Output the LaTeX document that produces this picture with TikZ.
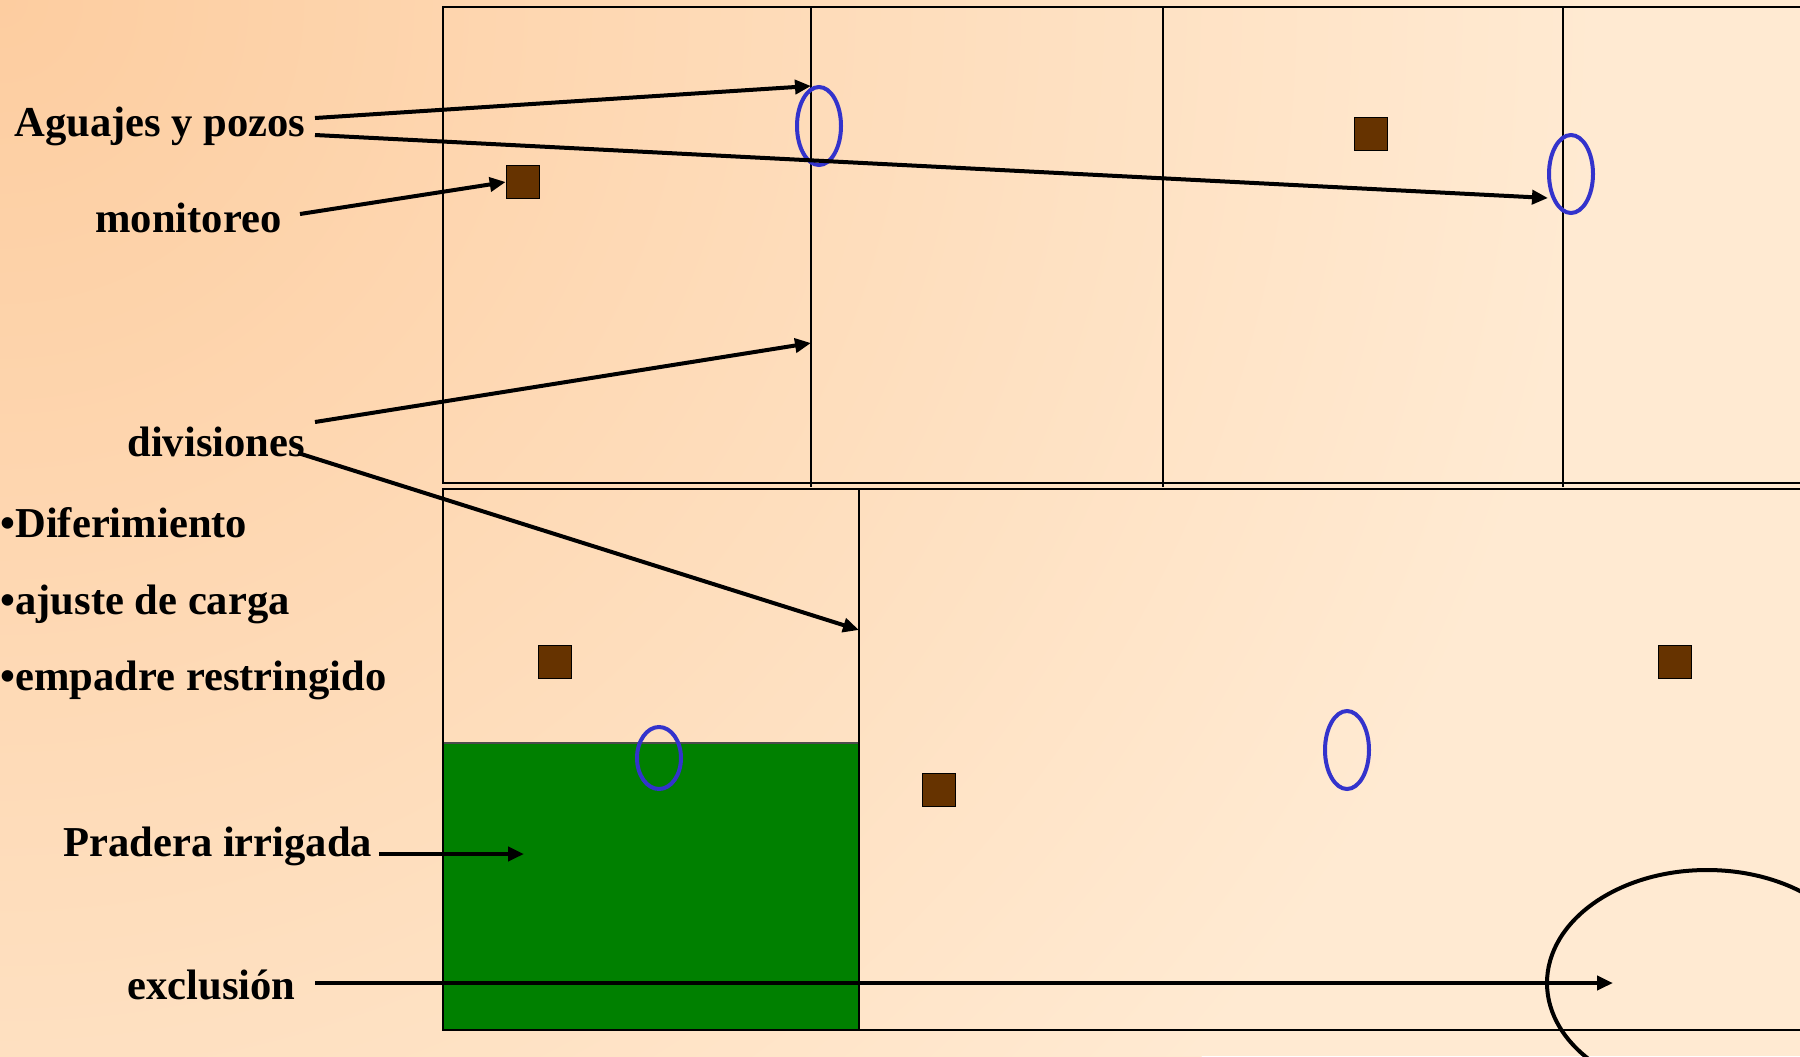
\documentclass[tikz,border=0pt]{standalone}
\usepackage{fontspec}
\setmainfont{Liberation Serif}
\usetikzlibrary{arrows.meta,shapes.geometric}
\definecolor{peachA}{RGB}{253,205,160}
\definecolor{peachB}{RGB}{255,234,210}
\definecolor{brownsq}{RGB}{102,51,0}
\definecolor{bluering}{RGB}{51,51,204}
\definecolor{pgreen}{RGB}{0,128,0}
\begin{document}
\begin{tikzpicture}[x=0.5pt,y=-0.5pt,
 lbl/.style={anchor=base west, inner sep=0pt, font=\fontsize{21.3pt}{25pt}\selectfont\bfseries},
 sq/.style={draw=black, line width=0.8pt, fill=brownsq, minimum width=16.5pt, minimum height=16.5pt, inner sep=0pt},
 ring/.style={ellipse, draw=bluering, line width=2pt, minimum width=22pt, minimum height=39pt, inner sep=0pt},
 arr/.style={line width=2pt, -{Triangle[length=8pt,width=7pt]}},
 frame/.style={line width=1.3pt},
 divline/.style={line width=1pt},
]
\useasboundingbox (0,0) rectangle (1800,1056);
\clip (0,0) rectangle (1800,1056);
% background
\fill[peachB] (0,0) rectangle (1800,1056);
\shade[inner color=peachA, outer color=peachB] (0,0) circle [radius=800pt];
% green meadow
\fill[pgreen] (443,743) rectangle (859,1030);
\draw[line width=0.8pt, black!70] (443,743) -- (859,743);
% frames
\draw[frame] (443,7) rectangle (1830,483);
\draw[frame] (443,489) rectangle (1830,1030);
\draw[divline] (811,7) -- (811,487);
\draw[divline] (1163,7) -- (1163,487);
\draw[divline] (1563,7) -- (1563,487);
\draw[divline] (859,489) -- (859,1030);
% squares
\node[sq] (s1) at (523,182) {};
\node[sq] (s2) at (1371,134) {};
\node[sq] (s3) at (555,662) {};
\node[sq] (s4) at (939,790) {};
\node[sq] (s5) at (1675,662) {};
% rings
\node[ring] (e1) at (819,126) {};
\node[ring] (e2) at (1571,174) {};
\node[ring, minimum height=31pt] (e3) at (659,758) {};
\node[ring] (e4) at (1347,750) {};
% exclusion zone
\node[ellipse, draw, line width=2pt, minimum width=160pt, minimum height=113pt, inner sep=0pt] (excl) at (1707,983) {};
% labels
\node[lbl] (agua) at (14,136) {Aguajes y pozos};
\node[lbl] (moni) at (95,232) {monitoreo};
\node[lbl] (divi) at (127,456) {divisiones};
\node[lbl] (dife) at (0,537) {•Diferimiento};
\node[lbl] (ajus) at (0,614) {•ajuste de carga};
\node[lbl] (empa) at (0,690) {•empadre restringido};
\node[lbl] (prad) at (63,856) {Pradera irrigada};
\node[lbl] (excll) at (127,999) {exclusión};
% arrow endpoints
\coordinate (a1s) at (315,118);
\coordinate (a1e) at (811,86);
\coordinate (a2s) at (315,135);
\coordinate (a2e) at (1548,198);
\coordinate (a3s) at (300,214);
\coordinate (a4s) at (315,422);
\coordinate (a4e) at (811,343);
\coordinate (a5s) at (298,453);
\coordinate (a5e) at (859,630);
\coordinate (a6s) at (379,854);
\coordinate (a6e) at (524,854);
\coordinate (a7s) at (315,983);
\coordinate (a7e) at (1613,983);
% arrows
\draw[arr] (a1s) -- (a1e);
\draw[arr] (a2s) -- (a2e);
\draw[arr] (a3s) -- (s1.west);
\draw[arr] (a4s) -- (a4e);
\draw[arr] (a5s) -- (a5e);
\draw[arr] (a6s) -- (a6e);
\draw[arr] (a7s) -- (a7e);
\end{tikzpicture}
\end{document}
